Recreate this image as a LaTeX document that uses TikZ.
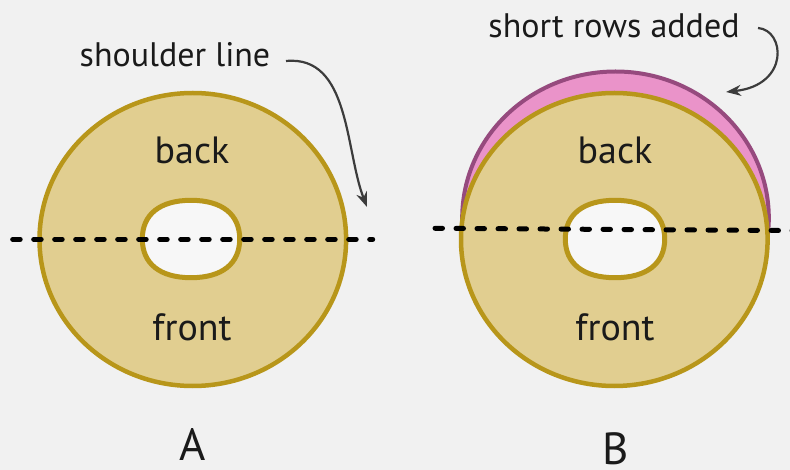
\documentclass[tikz,border=0pt]{standalone}
\usepackage{fontspec}
\setmainfont{PT Sans}
\usetikzlibrary{shapes.geometric,arrows.meta}
\definecolor{bg}{HTML}{F1F1F1}
\definecolor{tanfill}{HTML}{E1CE90}
\definecolor{tanline}{HTML}{B8961A}
\definecolor{pinkfill}{HTML}{EA93C9}
\definecolor{pinkline}{HTML}{964A7E}
\definecolor{holefill}{HTML}{F7F7F7}
\definecolor{arrowgray}{HTML}{3C3C3C}
\definecolor{txt}{HTML}{1A1A1A}
\tikzset{
  disc/.style={ellipse, draw=tanline, fill=tanfill, line width=4.5pt, inner sep=0pt,
    minimum width=306.6pt, minimum height=293pt},
  extra/.style={ellipse, draw=pinkline, fill=pinkfill, line width=4pt, inner sep=0pt,
    minimum width=306.6pt, minimum height=293pt},
  holebox/.style={rectangle, inner sep=0pt, minimum height=77pt},
  holeline/.style={draw=tanline, fill=holefill, line width=5pt},
  shoulder/.style={draw=black, line width=5pt, line cap=round, dash pattern=on 7.5pt off 13.5pt},
  pointer/.style={draw=arrowgray, line width=2.2pt, -{Stealth[length=15pt,width=11pt]}},
  lbl/.style={text=txt, font=\fontsize{34}{40}\selectfont, anchor=base, inner sep=0pt, text depth=0pt},
  part/.style={text=txt, font=\fontsize{38}{44}\selectfont, anchor=base, inner sep=0pt},
  letter/.style={text=txt, font=\fontsize{45}{52}\selectfont, anchor=base, inner sep=0pt, text depth=0pt}
}
% superelliptic outline through the four side midpoints of a node
\newcommand{\roundhole}[3]{% node name, half width, half height
  \draw[holeline] (#1.north)
    .. controls +(0.64*#2,0) and +(0,-0.64*#3) .. (#1.east)
    .. controls +(0,0.64*#3) and +(0.64*#2,0) .. (#1.south)
    .. controls +(-0.64*#2,0) and +(0,0.64*#3) .. (#1.west)
    .. controls +(0,-0.64*#3) and +(-0.64*#2,0) .. (#1.north) -- cycle;}
\begin{document}
\begin{tikzpicture}[x=1pt,y=-1pt]
\useasboundingbox (0,0) rectangle (790,470);
\fill[bg] (0,0) rectangle (790,470);

% ---------- A ----------
\node[disc] (discA) at (192.8,239.5) {};
\node[holebox, minimum width=97pt] (holeA) at (191,239) {};
\roundhole{holeA}{48.5}{38.5}
\coordinate (dAl) at (12.7,239.3);
\coordinate (dAr) at (372.7,239.3);
\draw[shoulder] (dAl) -- (dAr);
\node[part] (backA) at (192,164) {back};
\node[part] (frontA) at (192,341) {front};
\node[lbl] (slA) at (175,67) {shoulder line};
\coordinate (sA) at (286,61);
\coordinate (eA) at (367,207);
\draw[pointer] (sA) .. controls (350,55) and (345,150) .. (eA);
\node[letter] (labA) at (192.5,460) {A};

% ---------- B ----------
\node[extra] (extraB) at (615.5,218) {};
\node[disc] (discB) at (614.3,239.5) {};
\node[holebox, minimum width=99pt] (holeB) at (615,239) {};
\roundhole{holeB}{49.5}{38.5}
\coordinate (dBl) at (435,228.3);
\coordinate (dBr) at (794,230.6);
\draw[shoulder] (dBl) -- (dBr);
\node[part] (backB) at (615,164) {back};
\node[part] (frontB) at (615,341) {front};
\node[lbl] (srB) at (614,38) {short rows added};
\coordinate (sB) at (758,28);
\coordinate (eB) at (726,92);
\draw[pointer] (sB) .. controls (785,30) and (790,85) .. (eB);
\node[letter] (labB) at (615.5,464) {B};
\end{tikzpicture}
\end{document}
